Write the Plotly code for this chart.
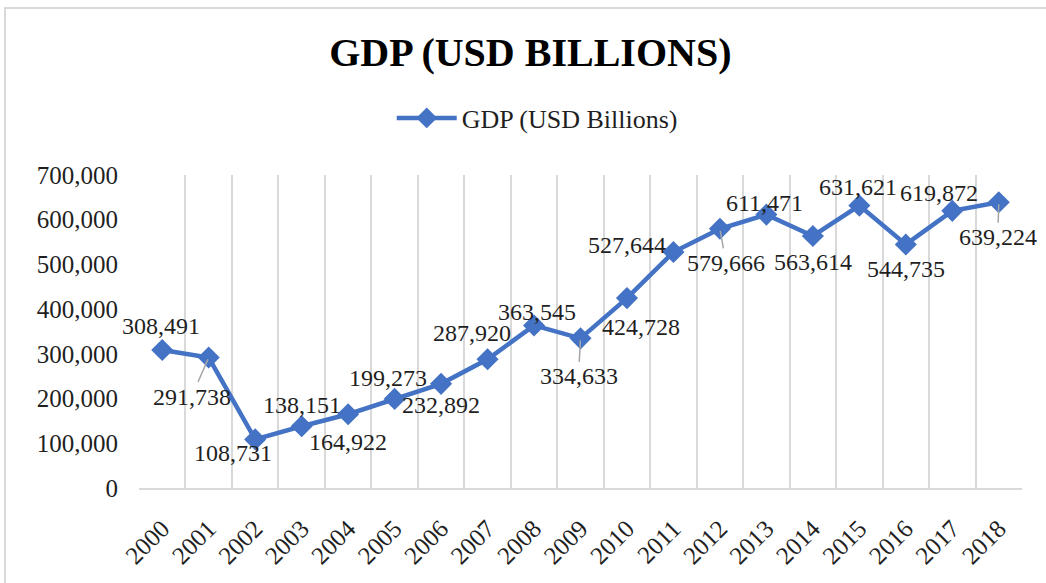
import plotly.graph_objects as go

# GDP series, 2000-2018 (USD billions as labelled)
years = [str(y) for y in range(2000, 2019)]
gdp = [308491, 291738, 108731, 138151, 164922, 199273, 232892, 287920, 363545,
       334633, 424728, 527644, 579666, 611471, 563614, 631621, 544735, 619872, 639224]
y_ticks = [0, 100000, 200000, 300000, 400000, 500000, 600000, 700000]

# label placement per point: (dx, dy) in pixels, dy positive = downwards, leader line flag
label_offsets = [(-1, -24, False), (-17, 39, True), (-22, 14, False), (0, -21, False),
                 (0, 28, False), (-7, -21, False), (0, 21, False), (-16, -26, False),
                 (3, -13, False), (-2, 38, True), (14, 29, False), (-46, -7, False),
                 (6, 34, True), (-2, -12, False), (0, 26, False), (-1, -19, False),
                 (0, 25, False), (-13, -18, False), (-1, 35, True)]

SERIF = "Liberation Serif, Times New Roman, serif"
BLUE = "#4472C4"
GRID = "#D9D9D9"
TXT = "#1F1F1F"

fig = go.Figure()
fig.add_trace(go.Scatter(
    x=years, y=gdp, mode="lines+markers", name="GDP (USD Billions)",
    line=dict(color=BLUE, width=4.5),
    marker=dict(symbol="diamond", size=17, color=BLUE),
))

# data labels; category position given by index on the category axis
annotations = []
for i, (v, (dx, dy, leader)) in enumerate(zip(gdp, label_offsets)):
    txt = f"{v:,}"
    if leader:
        annotations.append(dict(
            x=i, y=v, xref="x", yref="y", text=txt, showarrow=True, arrowhead=0,
            arrowwidth=1.5, arrowcolor="#A6A6A6", ax=dx, ay=dy, standoff=2,
            font=dict(family=SERIF, size=24, color=TXT)))
    else:
        annotations.append(dict(
            x=i, y=v, xref="x", yref="y", text=txt, showarrow=False,
            xshift=dx, yshift=-dy,
            font=dict(family=SERIF, size=24, color=TXT)))

fig.update_layout(
    width=1046, height=583,
    margin=dict(l=139, r=24, t=175, b=95),
    paper_bgcolor="white", plot_bgcolor="white",
    title=dict(text="<b>GDP (USD BILLIONS)</b>", x=0.507, xref="container",
               y=1 - 52 / 583, yref="container", xanchor="center", yanchor="middle",
               font=dict(family=SERIF, size=40, color="black")),
    showlegend=True,
    legend=dict(orientation="h", x=0.451, xanchor="center", y=1.182, yanchor="middle",
                font=dict(family=SERIF, size=26, color=TXT), itemwidth=60),
    xaxis=dict(type="category", range=[-0.5, 18.5], tickson="boundaries",
               showgrid=True, gridcolor=GRID, gridwidth=2,
               showline=True, linecolor=GRID, linewidth=2, ticks="",
               tickangle=-45, ticklabelstandoff=14,
               tickfont=dict(family=SERIF, size=25, color=TXT)),
    yaxis=dict(range=[0, 700000], tickvals=y_ticks, tickformat=",",
               showgrid=False, zeroline=False, showline=False, ticks="",
               ticklabelstandoff=20,
               tickfont=dict(family=SERIF, size=25, color=TXT)),
    annotations=annotations,
    shapes=[dict(type="rect", xref="paper", yref="paper",
                 x0=-134 / 883, x1=1.1, y0=-0.4, y1=1 + 167 / 313,
                 line=dict(color=GRID, width=2), layer="below")],
)

fig.write_html("out.html")
